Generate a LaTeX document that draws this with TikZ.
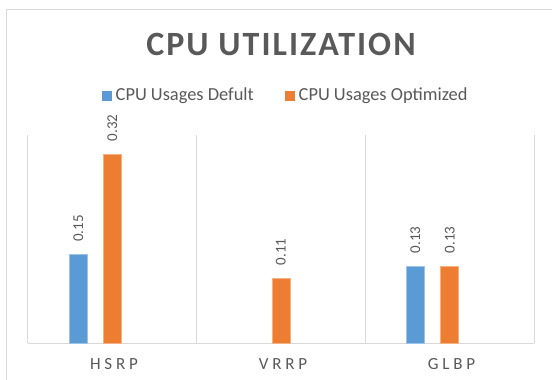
\documentclass[tikz,border=0pt]{standalone}
\usepackage{fontspec}
\setmainfont{Carlito}
\definecolor{barblue}{HTML}{5B9BD5}
\definecolor{barorange}{HTML}{ED7D31}
\definecolor{txtgray}{HTML}{595959}
\definecolor{gridgray}{HTML}{D9D9D9}
\begin{document}
\begin{tikzpicture}[x=1pt,y=-1pt,
  grid/.style={draw=gridgray,line width=1pt},
  bluebar/.style={fill=barblue,draw=barblue!60!white,line width=0.5pt},
  orangebar/.style={fill=barorange,draw=barorange!60!white,line width=0.5pt},
  vallabel/.style={rotate=90,anchor=west,inner sep=0pt,text=txtgray,font=\fontsize{15}{15}\selectfont},
  catlabel/.style={inner sep=0pt,text=txtgray,font=\fontsize{17}{17}\selectfont\addfontfeature{LetterSpace=22}},
  legtext/.style={anchor=west,inner sep=0pt,text=txtgray,font=\fontsize{18.4}{18.4}\selectfont},
  title/.style={inner sep=0pt,text=txtgray,font=\fontsize{34}{34}\selectfont\bfseries\addfontfeature{LetterSpace=6}}]
\useasboundingbox (0,0) rectangle (552,380);
\fill[white] (0,0) rectangle (552,380);
% chart frame
\draw[gridgray,line width=1pt] (6,390) -- (6,9) -- (560,9);
% title
\node[title] (ttl) at (281,44) {CPU UTILIZATION};
% legend
\fill[barblue] (101.5,90.5) rectangle (112,101) coordinate (lb);
\node[legtext] (lgb) at (115.5,95.5) {CPU Usages Defult};
\fill[barorange] (284.5,90.5) rectangle (295,101) coordinate (lo);
\node[legtext] (lgo) at (298.5,95.5) {CPU Usages Optimized};
% gridlines
\foreach \gx in {27.7,196.7,365.5,534.3}
  \draw[grid] (\gx,135) -- (\gx,343.3);
\draw[grid] (27.7,343.3) -- (534.3,343.3);
% bars
\path[bluebar] (69.2,343.3) rectangle (87.2,254.5) coordinate (b1);
\path[orangebar] (103.2,343.3) rectangle (121.2,153.9) coordinate (o1);
\path[orangebar] (271.8,343.3) rectangle (289.8,278.2) coordinate (o2);
\path[bluebar] (406.2,343.3) rectangle (424.2,266.3) coordinate (b3);
\path[orangebar] (440.7,343.3) rectangle (458.7,266.3) coordinate (o3);
% value labels
\node[vallabel] (v1) at (78.2,242) {0.15};
\node[vallabel] (v2) at (112.2,141.5) {0.32};
\node[vallabel] (v3) at (280.8,265.5) {0.11};
\node[vallabel] (v4) at (415.2,253.5) {0.13};
\node[vallabel] (v5) at (449.7,253.5) {0.13};
% category labels
\node[catlabel] (c1) at (114,364) {HSRP};
\node[catlabel] (c2) at (283,364) {VRRP};
\node[catlabel] (c3) at (451.5,364) {GLBP};
\end{tikzpicture}
\end{document}
